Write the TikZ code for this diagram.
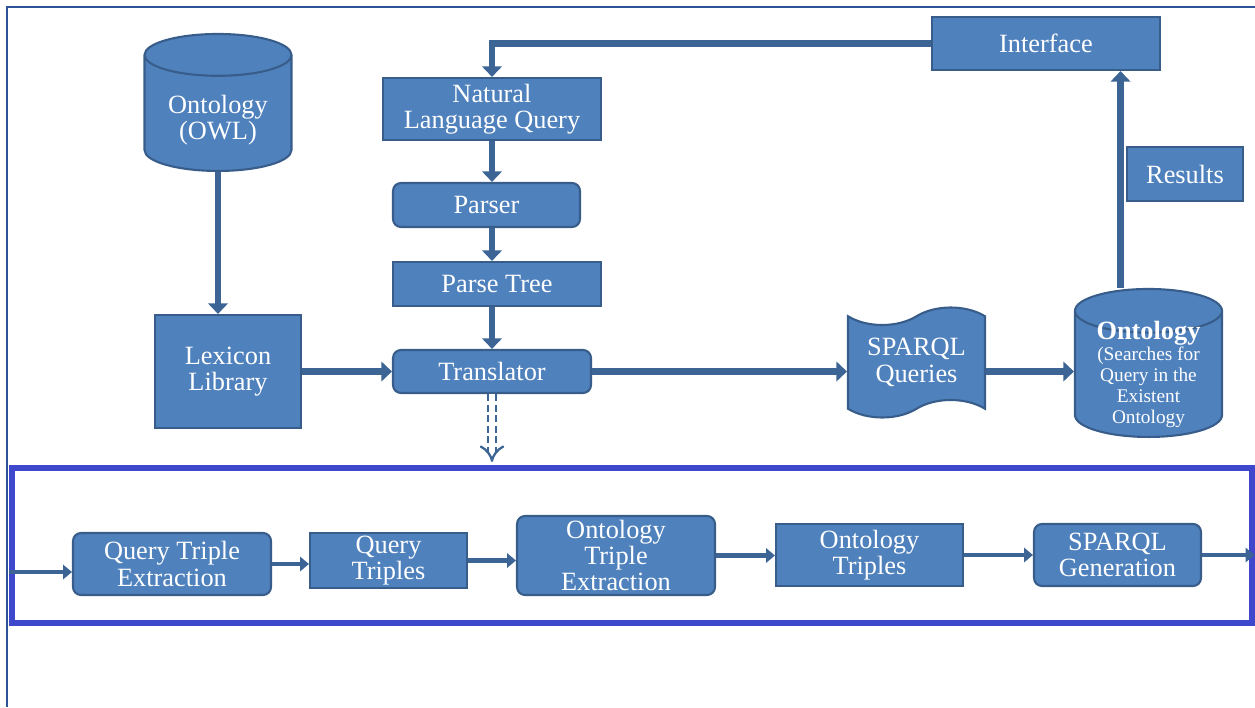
\documentclass[tikz,border=0pt]{standalone}
\usepackage{fontspec}
\setmainfont{Liberation Serif}
\usetikzlibrary{shapes.geometric, shapes.symbols, arrows.meta, positioning}
\definecolor{boxblue}{HTML}{4F81BD}
\definecolor{edgeblue}{HTML}{385D8A}
\definecolor{arrowblue}{HTML}{3C6494}
\definecolor{stageblue}{HTML}{3F48CC}
\definecolor{framecol}{HTML}{2F5496}

\begin{document}
\begin{tikzpicture}[x=0.02cm, y=-0.02cm,
        font=\fontsize{15}{15}\selectfont,
        block/.style={rectangle, draw=edgeblue, line width=1.2pt, fill=boxblue, text=white, align=center, inner sep=0pt},
        rblock/.style={block, rounded corners=0.16cm},
        store/.style={cylinder, shape border rotate=90, shape aspect=0.42, draw=edgeblue, line width=1.2pt, fill=boxblue, text=white, align=center, inner sep=0pt, anchor=south},
        line/.style={draw=arrowblue, line width=3.5pt, -{Triangle[length=6pt, width=11pt]}},
        thinline/.style={draw=arrowblue, line width=2.5pt, -{Triangle[length=5pt, width=8pt]}},
        dline/.style={draw=arrowblue, double=white, double distance=3.5pt, line width=1.3pt, dash pattern=on 4pt off 2pt, -{Implies}}]

        \useasboundingbox (0,0) rectangle (1255,707);
        \draw[framecol, line width=1pt] (7,707) -- (7,7) -- (1255,7);

        % Sources
        \node [store, minimum width=2.94cm, minimum height=2.74cm] (owl) at (218,172) {\rule{0pt}{18pt}Ontology\\(OWL)};
        \node [block, minimum width=2.92cm, minimum height=2.26cm] (lex) at (228,371.5) {Lexicon\\Library};

        % Query pipeline
        \node [block, minimum width=4.36cm, minimum height=1.24cm] (nlq) at (492,109) {Natural\\Language Query};
        \node [rblock, minimum width=3.74cm, minimum height=0.88cm] (parser) at (486.5,205) {Parser};
        \node [block, minimum width=4.16cm, minimum height=0.88cm] (ptree) at (497,284) {Parse Tree};
        \node [rblock, minimum width=3.96cm, minimum height=0.86cm] (trans) at (492,371.5) {Translator};

        % Right side
        \node [block, minimum width=4.56cm, minimum height=1.06cm] (iface) at (1046,43.5) {Interface};
        \node [block, minimum width=2.32cm, minimum height=1.08cm] (res) at (1185,174) {Results};
        \node [tape, tape bend top=in and out, tape bend bottom=in and out, tape bend height=0.35cm,
               draw=edgeblue, line width=1.2pt, fill=boxblue, text=white, align=center,
               minimum width=2.74cm, minimum height=2.2cm] (sparql) at (916.5,362.5) {SPARQL\\Queries};
        \node [store, minimum width=2.94cm, minimum height=2.96cm, inner ysep=-0.6cm, font=\fontsize{11}{12}\selectfont] (onto) at (1148.5,438)
              {{\fontsize{15}{15}\selectfont\bfseries Ontology}\\(Searches for\\Query in the\\Existent\\Ontology};

        % Translation stage
        \node [draw=stageblue, line width=3pt, minimum width=24.8cm, minimum height=3.1cm] (stage) at (632,545.5) {};
        \node [rblock, minimum width=3.96cm, minimum height=1.24cm] (qte) at (172,564) {Query Triple\\Extraction};
        \node [block, minimum width=3.14cm, minimum height=1.1cm] (qt) at (388.5,560.5) {Query\\Triples};
        \node [rblock, minimum width=3.96cm, minimum height=1.58cm] (ote) at (616,555.5) {Ontology\\Triple\\Extraction};
        \node [block, minimum width=3.74cm, minimum height=1.24cm] (ot) at (869.5,555) {Ontology\\Triples};
        \node [rblock, minimum width=3.34cm, minimum height=1.24cm] (sg) at (1117.5,555) {SPARQL\\Generation};
        \coordinate (drop) at (490,462);

        % Connections
        \path [line] (owl.south) -- (owl.south |- lex.north);
        \path [line] (lex.east) -- (trans.west);
        \path [line] (iface.west) -| (nlq.north);
        \path [line] (nlq.south) -- (nlq.south |- parser.north);
        \path [line] (nlq.south |- parser.south) -- (nlq.south |- ptree.north);
        \path [line] (nlq.south |- ptree.south) -- (nlq.south |- trans.north);
        \path [line] (trans.east) -- (trans.east -| sparql.west);
        \path [line] (trans.east -| sparql.east) -- (trans.east -| onto.west);
        \path [line] ([xshift=-0.56cm]onto.north) -- ([xshift=-0.56cm]onto.north |- iface.south);
        \path [dline] (trans.south) -- (trans.south |- drop);
        \path [thinline] (stage.west |- 0,572) -- (qte.west |- 0,572);
        \path [thinline] (qte.east) -- (qte.east -| qt.west);
        \path [thinline] (qt.east) -- (qt.east -| ote.west);
        \path [thinline] (ote.east) -- (ote.east -| ot.west);
        \path [thinline] (ot.east) -- (ot.east -| sg.west);
        \path [thinline] (sg.east) -- (sg.east -| stage.east);

    \end{tikzpicture}
\end{document}
